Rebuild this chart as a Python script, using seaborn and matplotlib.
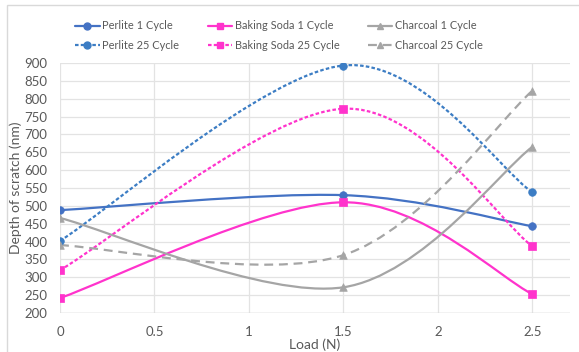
import numpy as np
import seaborn as sns
import matplotlib.pyplot as plt
from matplotlib.path import Path
from matplotlib.patches import PathPatch, Rectangle
from matplotlib.lines import Line2D

load = [0, 1.5, 2.5]
perlite_1 = [488, 530, 443]
perlite_25 = [402, 893, 538]
soda_1 = [242, 510, 253]
soda_25 = [320, 772, 387]
charcoal_1 = [466, 272, 665]
charcoal_25 = [390, 362, 822]

x_ticks = [0, 0.5, 1, 1.5, 2, 2.5]
x_tick_labels = ['0', '0.5', '1', '1.5', '2', '2.5']
y_ticks = list(range(200, 901, 50))

TXT = '#595959'


def smooth_path(xs, ys):
    # excel-like smoothed line: cubic bezier segments, catmull-rom tangents
    p = np.column_stack([xs, ys]).astype(float)
    n = len(p)
    verts = [p[0]]
    codes = [Path.MOVETO]
    for i in range(n - 1):
        prev = p[i - 1] if i > 0 else p[i]
        nxt = p[i + 2] if i + 2 < n else p[i + 1]
        c1 = p[i] + (p[i + 1] - prev) / 6.0
        c2 = p[i + 1] - (nxt - p[i]) / 6.0
        verts += [c1, c2, p[i + 1]]
        codes += [Path.CURVE4] * 3
    return Path(verts, codes)


sns.set_style('white')
plt.rcParams['font.family'] = ['Lato', 'DejaVu Sans']

fig = plt.figure(figsize=(5.79, 3.52), dpi=100)
ax = fig.add_axes([60 / 579, 39 / 352, 510 / 579, 250 / 352])

series = [
    ('Perlite 1 Cycle', perlite_1, '#4472C4', 'o', '-'),
    ('Perlite 25 Cycle', perlite_25, '#3C7DC4', 'o', (0, (1.6, 1.0))),
    ('Baking Soda 1 Cycle', soda_1, '#FF33CC', 's', '-'),
    ('Baking Soda 25 Cycle', soda_25, '#FF33CC', 's', (0, (1.6, 1.0))),
    ('Charcoal 1 Cycle', charcoal_1, '#A5A5A5', '^', '-'),
    ('Charcoal 25 Cycle', charcoal_25, '#A5A5A5', '^', (0, (4.0, 2.6))),
]

handles = []
for name, vals, color, mk, ls in series:
    patch = PathPatch(smooth_path(load, vals), facecolor='none', edgecolor=color,
                      linewidth=1.6, linestyle=ls, zorder=3)
    ax.add_patch(patch)
    sns.scatterplot(x=load, y=vals, marker=mk, color=color, s=30, edgecolor=color,
                    linewidth=0.5, ax=ax, zorder=4, legend=False)
    handles.append(Line2D([], [], color=color, linewidth=1.6, linestyle=ls,
                          marker=mk, markersize=5, markeredgecolor=color, label=name))

ax.set_xlim(0, 2.7)
ax.set_ylim(200, 900)
ax.set_xticks(x_ticks)
ax.set_xticklabels(x_tick_labels)
ax.set_yticks(y_ticks)
ax.grid(True, color='#E3E3E3', linewidth=0.9)
ax.set_axisbelow(True)
for s in ax.spines.values():
    s.set_visible(False)
ax.axhline(200, color='#D0D0D0', linewidth=1.0, zorder=1)
ax.tick_params(axis='both', length=0, labelsize=9.5, labelcolor=TXT)
ax.tick_params(axis='x', pad=9)
ax.tick_params(axis='y', pad=9)

ax.set_xlabel('Load (N)', fontsize=10, color=TXT, labelpad=1)
ax.set_ylabel('Depth of scratch (nm)', fontsize=10, color=TXT, labelpad=2)

fig.legend(handles=handles, ncol=3, loc='upper left', bbox_to_anchor=(71 / 579, 1 - 16 / 352),
           frameon=False, fontsize=7.9, labelcolor=TXT, handlelength=2.2,
           handletextpad=0.25, columnspacing=2.6, labelspacing=0.75, borderaxespad=0)

fig.patches.append(Rectangle((7 / 579, -0.01), 1.0, 1 - 5 / 352 + 0.01, transform=fig.transFigure,
                             facecolor='none', edgecolor='#D9D9D9', linewidth=1.0))

plt.savefig('out.png', dpi=100)
